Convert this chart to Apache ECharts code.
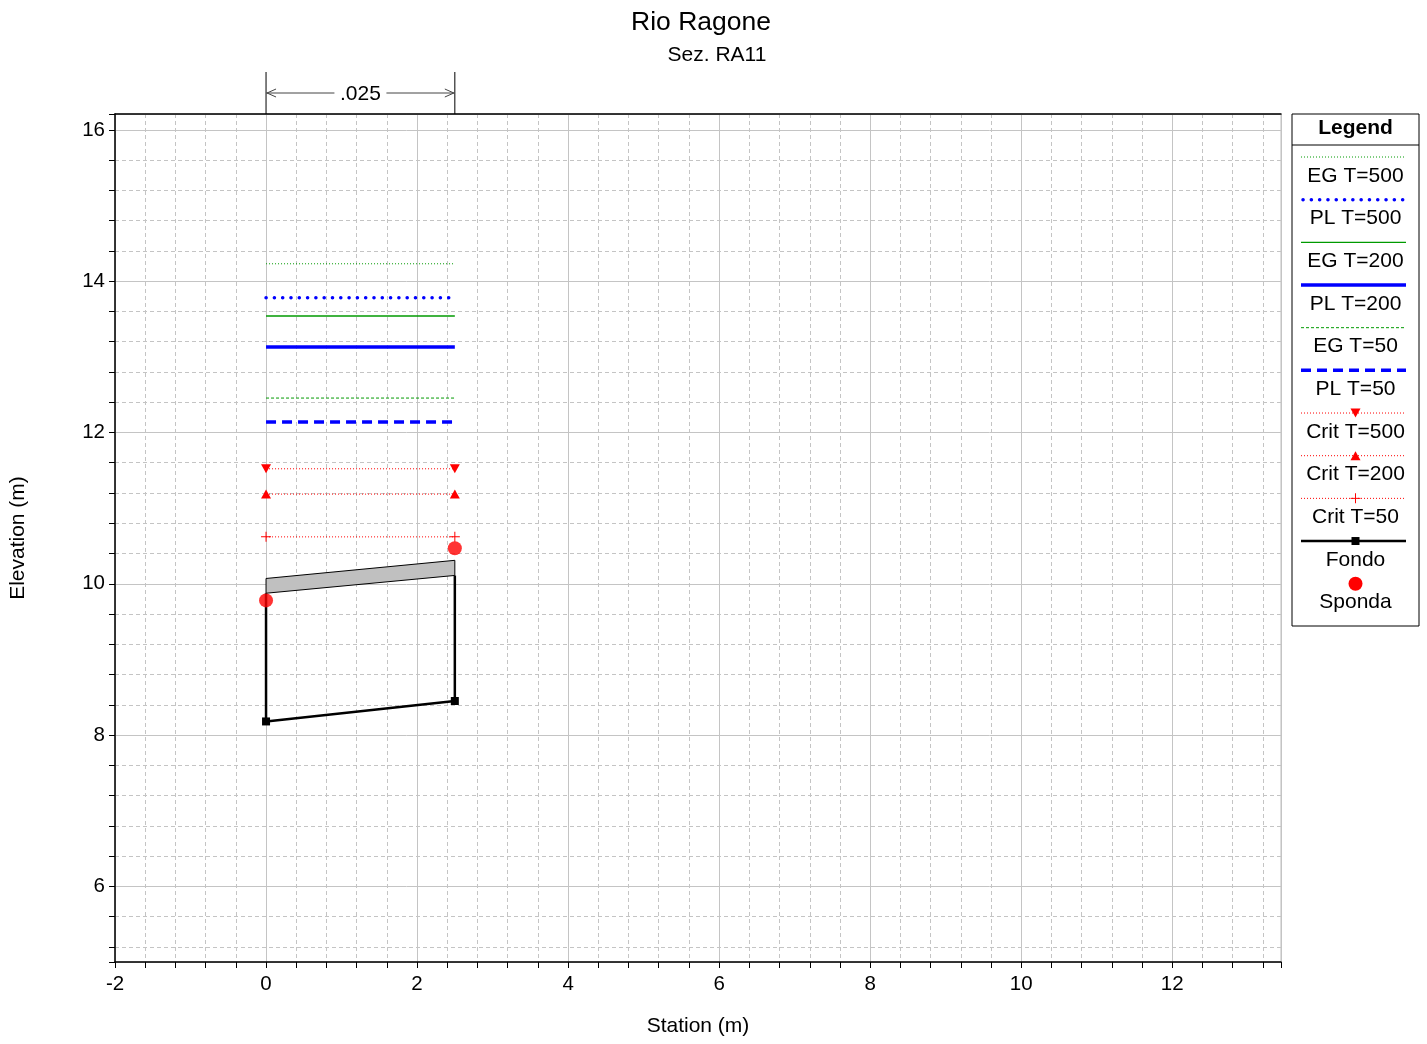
<!DOCTYPE html>
<html>
<head>
<meta charset="utf-8">
<script src="https://cdn.jsdelivr.net/npm/echarts@6/dist/echarts.min.js"></script>
<style>
  html, body { margin: 0; padding: 0; background: #fff; }
  #chart { width: 1427px; height: 1044px; }
</style>
</head>
<body>
<div id="chart"></div>
<script>
const FONT = '"Liberation Sans", Arial, sans-serif';

// Cross section RA11 - stations (m) and elevations (m)
const bankStations = [0, 2.5];
const bankElev = [9.78, 10.47];
const groundStations = [0, 0, 2.5, 2.5];
const groundElev = [9.875, 8.18, 8.45, 10.11];
const groundMarked = [false, true, true, false];
const deckTopElev = [10.07, 10.31];
const deckLowElev = [9.875, 10.11];

// Water surface profiles
const profileNames = ['EG T=500', 'PL T=500', 'EG T=200', 'PL T=200', 'EG T=50', 'PL T=50',
                      'Crit T=500', 'Crit T=200', 'Crit T=50'];
const profileElev = [14.23, 13.78, 13.54, 13.13, 12.455, 12.14, 11.52, 11.185, 10.62];

// Manning's n of the main channel
const manningN = ['.025'];

const xRange = [-2, 13.44];
const yRange = [5, 16.21];

const GREEN = '#009a00', BLUE = '#0000ff', RED = '#ff0000';
const PLUS = 'path://M-0.5,-5h1v4.5h4.5v1h-4.5v4.5h-1v-4.5h-4.5v-1h4.5z';

const profileStyles = [
  { color: GREEN, width: 1,   dash: [1, 2] },
  { color: BLUE,  width: 3.5, dash: [0.1, 8.2], cap: 'round' },
  { color: GREEN, width: 1.3, dash: 'solid' },
  { color: BLUE,  width: 3.5, dash: 'solid' },
  { color: GREEN, width: 1,   dash: [3, 2] },
  { color: BLUE,  width: 3.5, dash: [10, 6] },
  { color: RED,   width: 1,   dash: [1, 2], marker: 'down' },
  { color: RED,   width: 1,   dash: [1, 2], marker: 'up' },
  { color: RED,   width: 1,   dash: [1, 2], marker: 'plus' }
];

function markerSymbol(m) {
  if (m === 'down' || m === 'up') return 'triangle';
  if (m === 'plus') return PLUS;
  return 'none';
}

const profileSeries = profileNames.map((name, i) => {
  const st = profileStyles[i];
  return {
    name: name,
    type: 'line',
    z: 5,
    data: bankStations.map(s => [s, profileElev[i]]),
    showSymbol: !!st.marker,
    symbol: markerSymbol(st.marker),
    symbolSize: st.marker === 'plus' ? 10 : [10, 9],
    symbolRotate: st.marker === 'down' ? 180 : 0,
    itemStyle: { color: st.color },
    lineStyle: { color: st.color, width: st.width, type: st.dash, cap: st.cap || 'butt' }
  };
});

// Legend drawn as a boxed column: sample line above, label below
function legendGraphic() {
  const left = 1292, top = 114, w = 127, h = 512;
  const cx = left + w / 2;
  const x1 = 1301, x2 = 1409;
  const step = 42.67, y0 = 157;
  const children = [
    { type: 'rect', shape: { x: left, y: top, width: w, height: h },
      style: { fill: '#fff', stroke: '#000', lineWidth: 1 } },
    { type: 'line', shape: { x1: left, y1: 145, x2: left + w, y2: 145 },
      style: { stroke: '#000', lineWidth: 1 } },
    { type: 'text', x: cx, y: 128,
      style: { text: 'Legend', fontFamily: FONT, fontSize: 21, fontWeight: 'bold',
               fill: '#000', align: 'center', verticalAlign: 'middle' } }
  ];
  const entries = profileNames.map((n, i) => ({ name: n, st: profileStyles[i] }));
  entries.push({ name: 'Fondo', st: { color: '#000', width: 2.5, dash: 'solid', marker: 'square' } });
  entries.push({ name: 'Sponda', st: { color: RED, marker: 'circle', noLine: true } });
  entries.forEach((e, i) => {
    const y = y0 + i * step;
    const st = e.st;
    if (!st.noLine) {
      const inset = st.cap === 'round' ? 2 : 0;
      children.push({ type: 'line', shape: { x1: x1 + inset, y1: y, x2: x2 - inset - 3, y2: y },
        style: { stroke: st.color, lineWidth: st.width,
                 lineDash: Array.isArray(st.dash) ? st.dash : null,
                 lineCap: st.cap || 'butt' } });
    }
    if (st.marker === 'down') {
      children.push({ type: 'polygon', shape: { points: [[cx - 5, y - 4.5], [cx + 5, y - 4.5], [cx, y + 4.5]] }, style: { fill: st.color } });
    } else if (st.marker === 'up') {
      children.push({ type: 'polygon', shape: { points: [[cx - 5, y + 4.5], [cx + 5, y + 4.5], [cx, y - 4.5]] }, style: { fill: st.color } });
    } else if (st.marker === 'plus') {
      children.push({ type: 'rect', shape: { x: cx - 0.5, y: y - 5, width: 1, height: 10 }, style: { fill: st.color } });
      children.push({ type: 'rect', shape: { x: cx - 5, y: y - 0.5, width: 10, height: 1 }, style: { fill: st.color } });
    } else if (st.marker === 'square') {
      children.push({ type: 'rect', shape: { x: cx - 4, y: y - 4, width: 8, height: 8 }, style: { fill: st.color } });
    } else if (st.marker === 'circle') {
      children.push({ type: 'circle', shape: { cx: cx, cy: y, r: 7 }, style: { fill: st.color } });
    }
    children.push({ type: 'text', x: cx, y: y + 19,
      style: { text: e.name, fontFamily: FONT, fontSize: 21, fill: '#000',
               align: 'center', verticalAlign: 'middle' } });
  });
  return { type: 'group', children: children };
}

const chart = echarts.init(document.getElementById('chart'), null, { renderer: 'canvas' });

const option = {
  animation: false,
  backgroundColor: '#fff',
  textStyle: { fontFamily: FONT },
  grid: { left: 114, top: 114, width: 1167, height: 848, show: true,
          borderColor: '#bdbdbd', borderWidth: 1, backgroundColor: '#fff' },
  graphic: [
    { type: 'text', x: 701, y: 23,
      style: { text: 'Rio Ragone', fontFamily: FONT, fontSize: 26.5, fill: '#000',
               align: 'center', verticalAlign: 'middle' } },
    { type: 'text', x: 717, y: 55,
      style: { text: 'Sez. RA11', fontFamily: FONT, fontSize: 21, fill: '#000',
               align: 'center', verticalAlign: 'middle' } },
    legendGraphic()
  ],
  xAxis: [{
    type: 'value', min: xRange[0], max: xRange[1], interval: 2,
    name: 'Station (m)', nameLocation: 'middle', nameGap: 54,
    nameTextStyle: { fontSize: 21, color: '#000', fontFamily: FONT },
    axisLine: { show: true, onZero: false, lineStyle: { color: '#000', width: 1.5 } },
    axisTick: { show: true, inside: false, length: 6, lineStyle: { color: '#000' } },
    minorTick: { show: true, splitNumber: 5, length: 6, lineStyle: { color: '#000' } },
    axisLabel: { fontSize: 20.5, color: '#000', margin: 12, fontFamily: FONT, showMaxLabel: false },
    splitLine: { show: true, lineStyle: { color: '#c4c4c4', width: 1 } },
    minorSplitLine: { show: true, lineStyle: { color: '#c4c4c4', width: 1, type: [4, 3] } }
  }, {
    type: 'value', position: 'top', min: xRange[0], max: xRange[1],
    axisLine: { show: true, onZero: false, lineStyle: { color: '#000', width: 1.5 } },
    axisTick: { show: false }, axisLabel: { show: false }, splitLine: { show: false }
  }],
  yAxis: {
    type: 'value', min: yRange[0], max: yRange[1], splitNumber: 5,
    name: 'Elevation (m)', nameLocation: 'middle', nameGap: 86, nameRotate: 90,
    nameTextStyle: { fontSize: 21, color: '#000', fontFamily: FONT },
    axisLine: { show: true, onZero: false, lineStyle: { color: '#000', width: 1.5 } },
    axisTick: { show: true, inside: false, length: 6, lineStyle: { color: '#000' } },
    minorTick: { show: true, splitNumber: 5, length: 6, lineStyle: { color: '#000' } },
    axisLabel: { fontSize: 20.5, color: '#000', margin: 10, fontFamily: FONT,
                 showMinLabel: false, showMaxLabel: false },
    splitLine: { show: true, lineStyle: { color: '#c4c4c4', width: 1 } },
    minorSplitLine: { show: true, lineStyle: { color: '#c4c4c4', width: 1, type: [4, 3] } }
  },
  series: [
    // Deck / obstruction band between the banks
    {
      type: 'custom', z: 3, silent: true,
      data: [[bankStations[0], deckTopElev[0], deckLowElev[0], bankStations[1], deckTopElev[1], deckLowElev[1]]],
      encode: { x: [0, 3], y: [1, 2, 4, 5] },
      renderItem: function (params, api) {
        const pts = [
          api.coord([api.value(0), api.value(1)]),
          api.coord([api.value(3), api.value(4)]),
          api.coord([api.value(3), api.value(5)]),
          api.coord([api.value(0), api.value(2)])
        ];
        return { type: 'polygon', shape: { points: pts },
                 style: { fill: '#c0c0c0', stroke: '#000', lineWidth: 1 } };
      }
    },
    ...profileSeries,
    {
      name: 'Fondo', type: 'line', z: 6,
      data: groundStations.map((s, i) => ({
        value: [s, groundElev[i]],
        symbol: groundMarked[i] ? 'rect' : 'none'
      })),
      showSymbol: true, symbolSize: 8,
      itemStyle: { color: '#000' },
      lineStyle: { color: '#000', width: 2.5 }
    },
    {
      name: 'Sponda', type: 'scatter', z: 7,
      data: bankStations.map((s, i) => [s, bankElev[i]]),
      symbol: 'circle', symbolSize: 14,
      itemStyle: { color: RED }
    },
    // Manning's n span marker above the plot
    {
      type: 'custom', z: 8, silent: true, clip: false,
      data: [[bankStations[0], bankStations[1]]],
      encode: { x: [0, 1] },
      renderItem: function (params, api) {
        const top = params.coordSys.y;
        const xa = api.coord([api.value(0), yRange[1]])[0];
        const xb = api.coord([api.value(1), yRange[1]])[0];
        const ya = top - 21;
        const mid = (xa + xb) / 2;
        const gap = 26;
        const ln = { stroke: '#000', lineWidth: 1 };
        const ar = { stroke: '#444', lineWidth: 1, fill: null };
        return {
          type: 'group',
          children: [
            { type: 'line', shape: { x1: xa, y1: top - 42, x2: xa, y2: top }, style: ln },
            { type: 'line', shape: { x1: xb, y1: top - 42, x2: xb, y2: top }, style: ln },
            { type: 'line', shape: { x1: xa, y1: ya, x2: mid - gap, y2: ya }, style: ar },
            { type: 'line', shape: { x1: mid + gap, y1: ya, x2: xb, y2: ya }, style: ar },
            { type: 'polyline', shape: { points: [[xa + 10, ya - 4], [xa + 1, ya], [xa + 10, ya + 4]] }, style: ar },
            { type: 'polyline', shape: { points: [[xb - 10, ya - 4], [xb - 1, ya], [xb - 10, ya + 4]] }, style: ar },
            { type: 'text', x: mid, y: ya + 1,
              style: { text: manningN[params.dataIndex], fontFamily: FONT, fontSize: 21,
                       fill: '#000', align: 'center', verticalAlign: 'middle' } }
          ]
        };
      }
    }
  ]
};

chart.setOption(option);
</script>
</body>
</html>
